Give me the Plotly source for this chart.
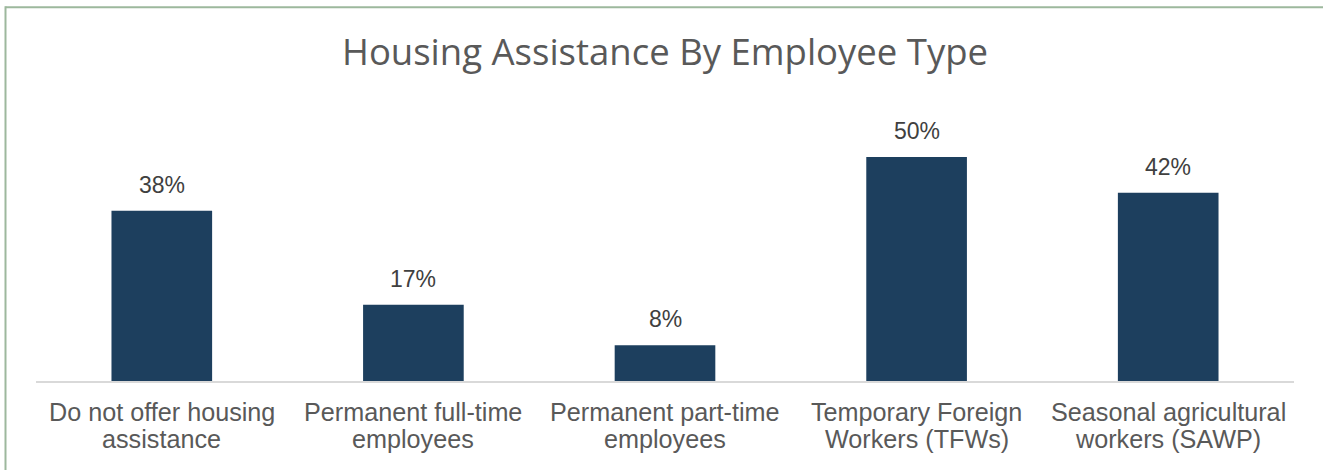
import plotly.graph_objects as go

categories = ["Do not offer housing<br>assistance", "Permanent full-time<br>employees",
              "Permanent part-time<br>employees", "Temporary Foreign<br>Workers (TFWs)",
              "Seasonal agricultural<br>workers (SAWP)"]
values = [38, 17, 8, 50, 42]
labels = ["38%", "17%", "8%", "50%", "42%"]

W, H = 1323, 470
L, R, T, B = 36, 1294, 100, 381
pw, ph = R - L, B - T


def px(x):
    return (x - L) / pw


def py(y):
    return (B - y) / ph


fig = go.Figure()
fig.add_trace(go.Bar(x=categories, y=values, marker=dict(color="#1D3F5E", line=dict(width=0)),
                     hoverinfo="skip"))

for c, v, t in zip(categories, values, labels):
    fig.add_annotation(x=c, y=v, text=t, showarrow=False, yanchor="middle", yshift=26,
                       font=dict(family="Liberation Sans, Arial", size=23, color="#404040"))

line_centers = [411.5, 439]
for c in categories:
    for i, part in enumerate(c.split("<br>")):
        fig.add_annotation(x=c, xref="x", y=py(line_centers[i]), yref="paper", text=part,
                           showarrow=False, yanchor="middle",
                           font=dict(family="Liberation Sans, Arial", size=25.2, color="#595959"))

border = dict(color="#9DB89D", width=2)
fig.add_shape(type="line", xref="paper", yref="paper",
              x0=px(5.5), x1=px(1330), y0=py(7.3), y1=py(7.3), line=border, layer="above")
fig.add_shape(type="line", xref="paper", yref="paper",
              x0=px(5.5), x1=px(5.5), y0=py(6.3), y1=py(480), line=border, layer="above")

fig.update_layout(
    width=W, height=H,
    margin=dict(l=L, r=W - R, t=T, b=H - B),
    paper_bgcolor="white", plot_bgcolor="white",
    bargap=0.6,
    showlegend=False,
    title=dict(text="Housing Assistance By Employee Type", x=0.5, xref="paper",
               xanchor="center", y=1 - 52 / H, yanchor="middle",
               font=dict(family="Open Sans", size=36.5, color="#595959")),
    xaxis=dict(showline=True, linecolor="#D9D9D9", linewidth=1.5, ticks="",
               showticklabels=False, showgrid=False, zeroline=False, fixedrange=True),
    yaxis=dict(range=[0, ph / 4.48], visible=False, showgrid=False, zeroline=False),
)

fig.write_html("out.html")
